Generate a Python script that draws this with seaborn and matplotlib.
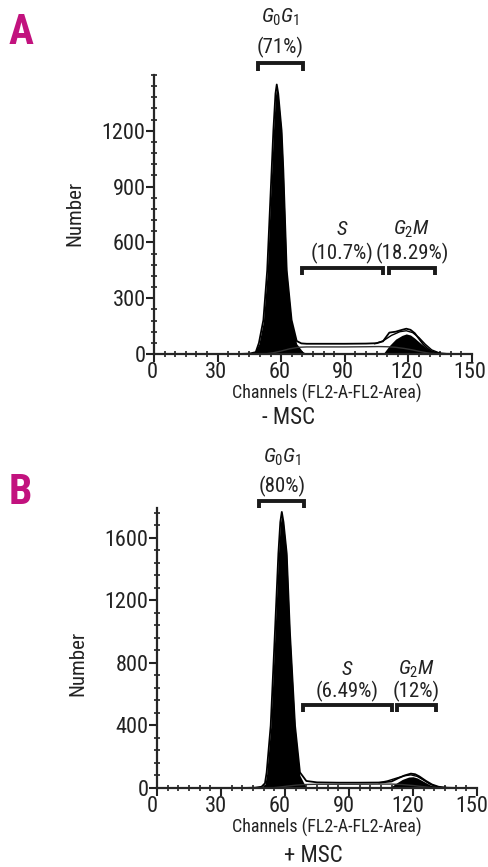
import numpy as np
import matplotlib
matplotlib.use("Agg")
import matplotlib.pyplot as plt
from matplotlib.ticker import MultipleLocator
from matplotlib.transforms import ScaledTranslation
import seaborn as sns

# Panel A (- MSC): histogram
a_total_x = [40, 45, 48, 49.5, 51.6, 53.4, 55.5, 56.3, 57.3, 57.9, 58.6, 60.2, 61, 62.6, 64.9, 67.3, 69.5, 72,
             80, 90, 100, 105, 108, 111, 114, 117, 119, 121, 123, 125, 127, 129, 131, 134, 138, 145]
a_total_y = [0, 2, 10, 60, 183, 450, 990, 1200, 1400, 1449, 1400, 1200, 990, 450, 183, 70, 57, 55,
             55, 55, 56, 58, 68, 115, 120, 130, 136, 130, 112, 82, 52, 30, 14, 5, 1, 0]
a_g1_x = [47, 49.5, 51.6, 53.4, 55.5, 56.3, 57.3, 57.9, 58.6, 60.2, 61, 62.6, 64.9, 67.3, 70, 72]
a_g1_y = [0, 55, 175, 440, 980, 1190, 1390, 1440, 1390, 1190, 980, 440, 170, 55, 15, 0]
a_s_x = [52, 56, 60, 64, 68, 72, 80, 90, 100, 106, 110, 114, 118, 122, 126, 130, 134]
a_s_y = [0, 6, 16, 28, 36, 38, 38, 38, 39, 40, 39, 36, 30, 22, 12, 4, 0]
a_g2_x = [108, 111, 114, 117, 119, 121, 123, 126, 129, 132, 135]
a_g2_y = [0, 45, 80, 100, 108, 102, 85, 55, 28, 10, 0]
a_fit_x = [104, 108, 112, 116, 119, 122, 125, 128, 131, 135]
a_fit_y = [55, 70, 100, 120, 125, 115, 88, 52, 22, 4]
a_yticks = [0, 300, 600, 900, 1200]

# Panel B (+ MSC)
b_total_x = [40, 46, 49, 50.6, 51.4, 53.3, 55.3, 56.9, 57.8, 58.5, 59.3, 60.8, 62.3, 64.7, 67, 70,
             75, 85, 95, 105, 110, 113, 116, 119, 121, 123, 126, 129, 132, 136, 142]
b_total_y = [0, 2, 8, 30, 100, 400, 1000, 1500, 1700, 1765, 1700, 1500, 1000, 400, 100, 45,
             36, 34, 34, 35, 42, 62, 80, 92, 88, 74, 46, 22, 8, 2, 0]
b_g1_x = [49, 50.6, 51.4, 53.3, 55.3, 56.9, 57.8, 58.5, 59.3, 60.8, 62.3, 64.7, 67, 70]
b_g1_y = [0, 25, 90, 390, 990, 1490, 1690, 1750, 1690, 1490, 990, 390, 80, 0]
b_s_x = [53, 57, 61, 65, 69, 75, 85, 95, 105, 110, 115, 120, 125, 130]
b_s_y = [0, 5, 12, 18, 22, 24, 24, 24, 25, 25, 22, 16, 8, 0]
b_g2_x = [109, 112, 115, 118, 120, 122, 125, 128, 131, 134]
b_g2_y = [0, 30, 55, 70, 72, 64, 42, 20, 6, 0]
b_fit_x = [104, 108, 112, 116, 119, 122, 125, 128, 132]
b_fit_y = [34, 45, 62, 78, 84, 74, 50, 24, 5]
b_yticks = [0, 400, 800, 1200, 1600]

x_ticks = [0, 30, 60, 90, 120, 150]

# phase brackets: (start, end) channel, labels
a_phases = [(49, 70.3), (69.7, 107.9), (110.8, 132.5)]
a_pct = ["(71%)", "(10.7%)", "(18.29%)"]
b_phases = [(48, 69), (68.3, 110), (112.7, 130.7)]
b_pct = ["(80%)", "(6.49%)", "(12%)"]
phase_names = [r"$G_{0}G_{1}$", r"$S$", r"$G_{2}M$"]

sns.set_style("ticks")
plt.rcParams['font.family'] = ['Roboto Condensed', 'DejaVu Sans']
plt.rcParams['mathtext.fontset'] = 'custom'
plt.rcParams['mathtext.rm'] = 'Roboto Condensed'
plt.rcParams['mathtext.it'] = 'Roboto Condensed:italic'
plt.rcParams['axes.linewidth'] = 1.6

fig = plt.figure(figsize=(4.88, 8.67), dpi=100)
ax_a = fig.add_axes([154 / 488, 1 - 354 / 867, 318 / 488, 279 / 867])
ax_b = fig.add_axes([157 / 488, 1 - 788 / 867, 320 / 488, 280 / 867])


def draw_panel(ax, tx, ty, g1x, g1y, sx, sy, g2x, g2y, fx, fy, ymax, yticks, yminor, shift):
    ax.fill_between(g1x, 0, g1y, color='black', lw=0)
    ax.fill_between(g2x, 0, g2y, color='black', lw=0)
    sns.lineplot(x=tx, y=ty, ax=ax, color='black', lw=1.3, sort=False)
    sns.lineplot(x=sx, y=sy, ax=ax, color='#333333', lw=1.0, sort=False)
    sns.lineplot(x=fx, y=fy, ax=ax, color='black', lw=1.0, sort=False)
    ax.set_xlim(0, 150)
    ax.set_ylim(0, ymax)
    sns.despine(ax=ax)
    ax.set_xticks(x_ticks)
    ax.set_yticks(yticks)
    ax.xaxis.set_minor_locator(MultipleLocator(5))
    ax.yaxis.set_minor_locator(MultipleLocator(yminor))
    ax.tick_params(which='major', length=6, width=1.5, labelsize=16, pad=0, color='#222222')
    ax.tick_params(which='minor', length=4, width=1.3, direction='inout', color='#333333')
    ax.set_xlabel("")
    ax.set_ylabel("")
    off = ScaledTranslation(shift / 100, 0, fig.dpi_scale_trans)
    for t in ax.get_xticklabels():
        t.set_transform(t.get_transform() + off)
    for t in ax.get_xticklabels() + ax.get_yticklabels():
        t.set_color('#222222')


def draw_brackets(ax, phases, pct, yb_g1, yb_s, drop_g1, drop_s, lab_g1, lab_s):
    for i, (x0, x1) in enumerate(phases):
        yb = yb_g1 if i == 0 else yb_s
        d = drop_g1 if i == 0 else drop_s
        ax.plot([x0, x0, x1, x1], [yb - d, yb, yb, yb - d], color='#1a1a1a', lw=2.8,
                clip_on=False, solid_joinstyle='miter', solid_capstyle='butt')
        xc = (x0 + x1) / 2
        ly = lab_g1 if i == 0 else lab_s
        ax.text(xc, ly[0], phase_names[i], ha='center', va='center', fontsize=15,
                color='#222222', clip_on=False)
        ax.text(xc, ly[1], pct[i], ha='center', va='center', fontsize=15,
                color='#222222', clip_on=False)


draw_panel(ax_a, a_total_x, a_total_y, a_g1_x, a_g1_y, a_s_x, a_s_y, a_g2_x, a_g2_y,
           a_fit_x, a_fit_y, 1500, a_yticks, 60, -2)
draw_brackets(ax_a, a_phases, a_pct, 1562, 465, 40, 40, (1808, 1646), (668, 542))

draw_panel(ax_b, b_total_x, b_total_y, b_g1_x, b_g1_y, b_s_x, b_s_y, b_g2_x, b_g2_y,
           b_fit_x, b_fit_y, 1790, b_yticks, 80, -5)
draw_brackets(ax_b, b_phases, b_pct, 1833, 532, 40, 43, (2116, 1925), (759, 617))

# panel letters
fig.text(9 / 488, 1 - 33 / 867, "A", fontsize=30, fontweight='bold', color='#C2127E',
         ha='left', va='center')
fig.text(9 / 488, 1 - 492 / 867, "B", fontsize=30, fontweight='bold', color='#C2127E',
         ha='left', va='center')

# axis titles
for yy, xx in [(213, 75), (663, 78)]:
    fig.text(xx / 488, 1 - yy / 867, "Number", rotation=90, fontsize=15, color='#222222',
             ha='center', va='center')
fig.text(326.7 / 488, 1 - 393 / 867, "Channels (FL2-A-FL2-Area)", fontsize=13,
         color='#222222', ha='center', va='center')
fig.text(326.7 / 488, 1 - 827 / 867, "Channels (FL2-A-FL2-Area)", fontsize=13,
         color='#222222', ha='center', va='center')
fig.text(289 / 488, 1 - 417 / 867, "- MSC", fontsize=16.5, color='#222222',
         ha='center', va='center')
fig.text(313 / 488, 1 - 855 / 867, "+ MSC", fontsize=16.5, color='#222222',
         ha='center', va='center')

fig.savefig("out.png", dpi=100, facecolor='white')
